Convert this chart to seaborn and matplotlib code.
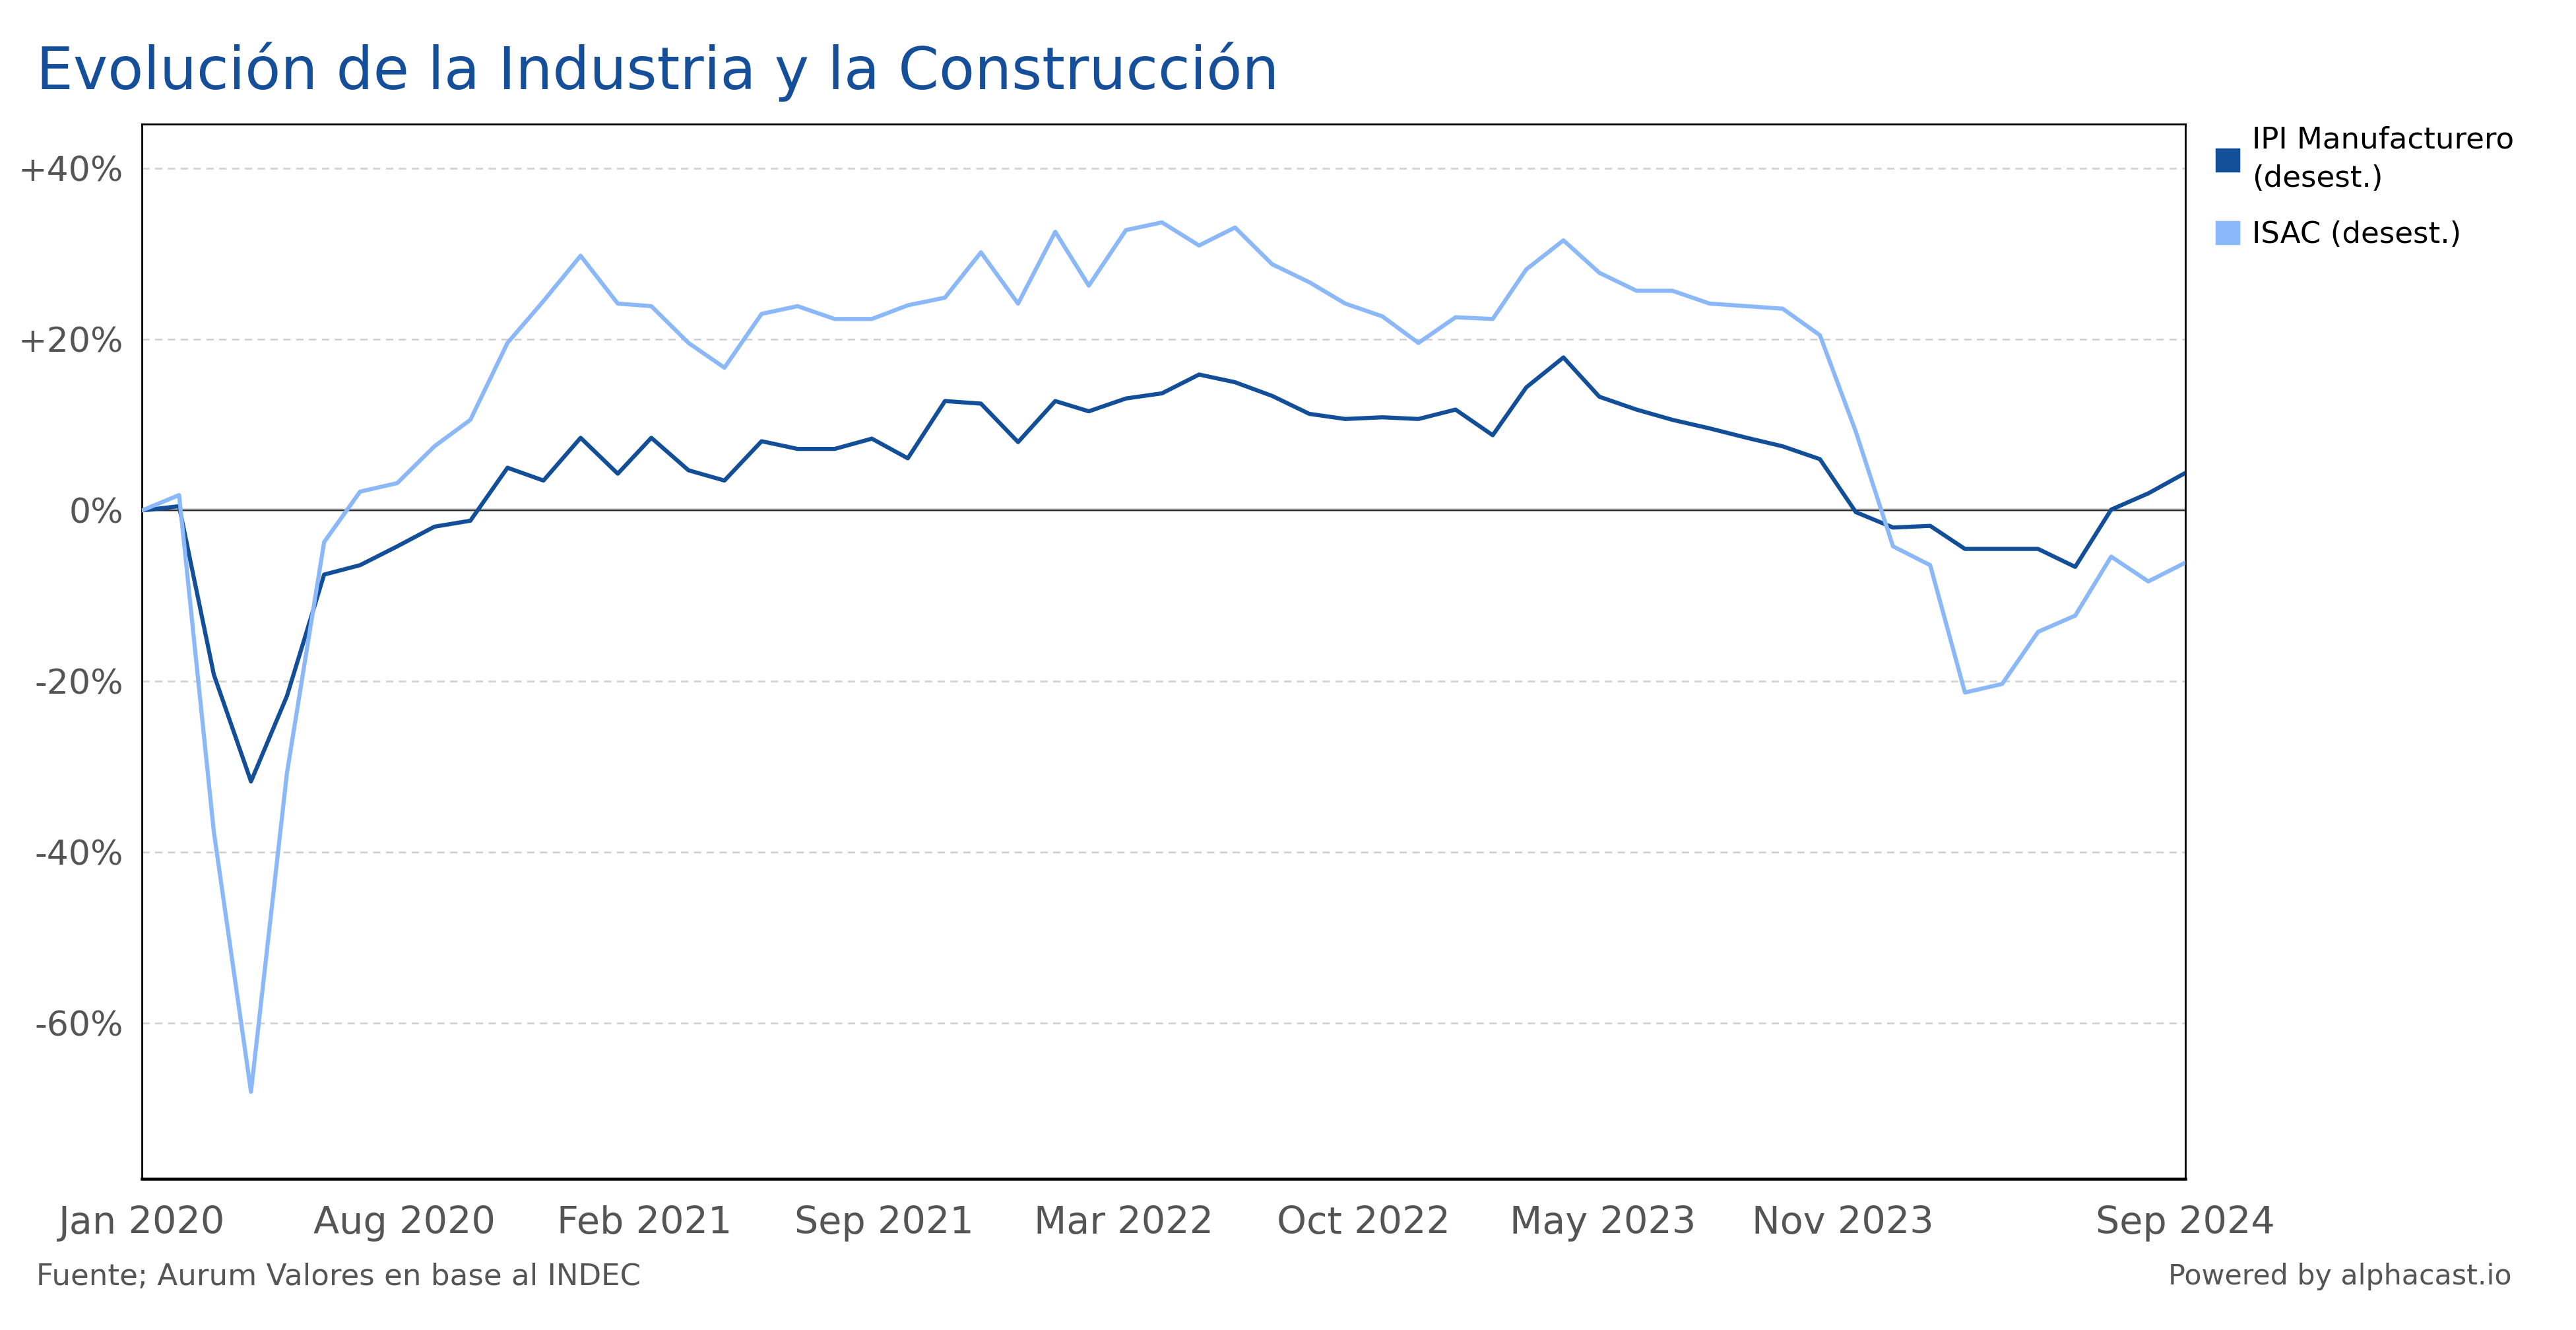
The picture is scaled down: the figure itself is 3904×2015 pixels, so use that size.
import pandas as pd
import matplotlib
matplotlib.use("Agg")
import matplotlib.pyplot as plt
from matplotlib.patches import Patch
import seaborn as sns

# monthly data, Jan 2020 - Sep 2024 (% vs Jan 2020, desestacionalizado)
months = pd.date_range("2020-01-01", "2024-09-01", freq="MS")

ipi = [0.0, 0.5, -19.2, -31.7, -21.7, -7.5, -6.4, -4.2, -1.9, -1.2,
       5.0, 3.5, 8.5, 4.3, 8.5, 4.7, 3.5, 8.1, 7.2, 7.2,
       8.4, 6.1, 12.8, 12.5, 8.0, 12.8, 11.6, 13.1, 13.7, 15.9,
       15.0, 13.4, 11.3, 10.7, 10.9, 10.7, 11.8, 8.8, 14.4, 17.9,
       13.3, 11.8, 10.6, 9.6, 8.5, 7.5, 6.0, -0.2, -2.0, -1.8,
       -4.5, -4.5, -4.5, -6.6, 0.1, 2.0, 4.4]

isac = [0.0, 1.8, -37.6, -68.0, -30.7, -3.7, 2.2, 3.2, 7.5, 10.6,
        19.6, 24.5, 29.8, 24.2, 23.9, 19.6, 16.7, 23.0, 23.9, 22.4,
        22.4, 24.0, 24.9, 30.2, 24.2, 32.6, 26.3, 32.8, 33.7, 31.0,
        33.1, 28.8, 26.7, 24.2, 22.7, 19.6, 22.6, 22.4, 28.2, 31.6,
        27.8, 25.7, 25.7, 24.2, 23.9, 23.6, 20.5, 9.2, -4.2, -6.4,
        -21.3, -20.3, -14.2, -12.3, -5.4, -8.3, -6.1]

series_names = ["IPI Manufacturero (desest.)", "ISAC (desest.)"]
legend_labels = ["IPI Manufacturero\n(desest.)", "ISAC (desest.)"]
colors = ["#134e98", "#8bb8f8"]

yticks = [-60, -40, -20, 0, 20, 40]
ytick_labels = ["-60%", "-40%", "-20%", "0%", "+20%", "+40%"]

xtick_dates = ["2020-01-01", "2020-08-07", "2021-02-23", "2021-09-11", "2022-03-30",
               "2022-10-16", "2023-05-04", "2023-11-20", "2024-09-01"]
xtick_labels = ["Jan 2020", "Aug 2020", "Feb 2021", "Sep 2021", "Mar 2022",
                "Oct 2022", "May 2023", "Nov 2023", "Sep 2024"]

df = pd.DataFrame({
    "fecha": list(months) * 2,
    "serie": [series_names[0]] * len(ipi) + [series_names[1]] * len(isac),
    "valor": ipi + isac,
})

sns.set_style("white")
plt.rcParams["font.family"] = ["DejaVu Sans"]

fig = plt.figure(figsize=(15.616, 8.06), dpi=250)
ax = fig.add_axes([0.0551, 0.1136, 0.7933, 0.7931])

# grid + zero line
for y in yticks:
    if y == 0:
        ax.axhline(0, color="#cccccc", lw=1.6, zorder=1)
        ax.axhline(0, color="#333333", lw=0.6, zorder=1)
    else:
        ax.axhline(y, color="#d3d3d3", lw=0.8, ls=(0, (4, 3)), zorder=1)

sns.lineplot(data=df, x="fecha", y="valor", hue="serie",
             palette=dict(zip(series_names, colors)), linewidth=1.8,
             legend=False, ax=ax, zorder=3)

ax.set_xlim(pd.Timestamp("2020-01-01"), pd.Timestamp("2024-09-01"))
ax.set_ylim(-78.2, 45.2)

ax.set_yticks(yticks)
ax.set_yticklabels(ytick_labels)
ax.set_xticks(pd.to_datetime(xtick_dates))
ax.set_xticklabels(xtick_labels)
ax.tick_params(axis="y", length=0, pad=8, labelsize=15, labelcolor="#555555")
ax.tick_params(axis="x", length=4.6, width=0.6, color="#cccccc", pad=7,
               labelsize=16.5, labelcolor="#555555")
ax.set_xlabel("")
ax.set_ylabel("")

for side in ["top", "right", "left"]:
    ax.spines[side].set_color("black")
    ax.spines[side].set_linewidth(0.8)
ax.spines["bottom"].set_color("black")
ax.spines["bottom"].set_linewidth(1.3)

handles = [Patch(facecolor=c, edgecolor=c) for c in colors]
leg = ax.legend(handles, legend_labels, loc="upper left", bbox_to_anchor=(1.002, 1.024),
                frameon=False, handlelength=0.75, handleheight=0.75, handletextpad=0.45,
                labelspacing=0.95, fontsize=13, labelcolor="black")
for t in leg.get_texts():
    t.set_linespacing(1.45)

fig.text(0.0141, 0.946, "Evolución de la Industria y la Construcción",
         fontsize=25.5, color="#154f9a", ha="left", va="center")
fig.text(0.0141, 0.040, "Fuente; Aurum Valores en base al INDEC",
         fontsize=13, color="#555555", ha="left", va="center")
fig.text(0.975, 0.040, "Powered by alphacast.io",
         fontsize=12.3, color="#555555", ha="right", va="center")

fig.savefig("out.png", dpi=250, facecolor="white")
